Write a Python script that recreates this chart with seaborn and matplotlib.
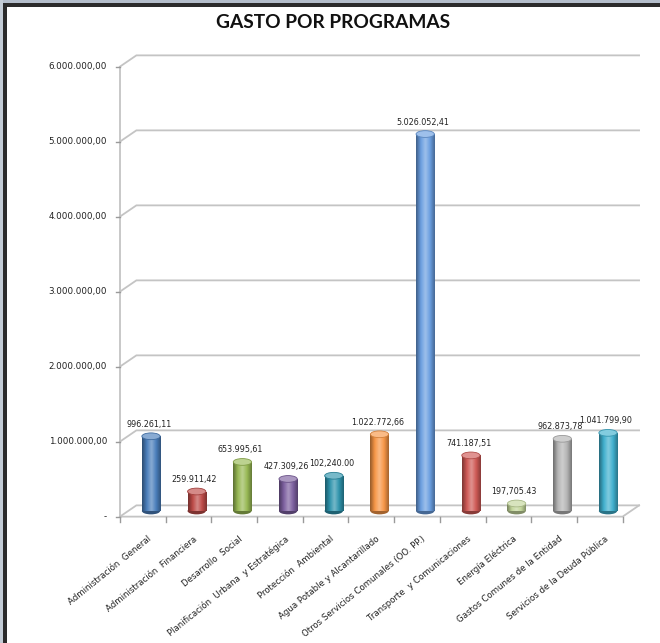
import numpy as np
import pandas as pd
import matplotlib
matplotlib.use("Agg")
import matplotlib.pyplot as plt
import seaborn as sns
from matplotlib.patches import Ellipse, Rectangle
from matplotlib.colors import LinearSegmentedColormap, to_rgb

categories = ["Administración  General", "Administración  Financiera", "Desarrollo  Social",
              "Planificación  Urbana  y Estratégica", "Protección  Ambiental",
              "Agua Potable y Alcantarillado", "Otros Servicios Comunales (OO. PP.)",
              "Transporte  y Comunicaciones", "Energía Eléctrica",
              "Gastos Comunes de la Entidad", "Servicios de la Deuda Pública"]
values = [996261.11, 259911.42, 653995.61, 427309.26, 470000.00, 1022772.66,
          5026052.41, 741187.51, 100000.00, 962873.78, 1041799.90]
value_labels = ["996.261,11", "259.911,42", "653.995,61", "427.309,26", "102,240.00",
                "1.022.772,66", "5.026.052,41", "741.187,51", "197,705.43",
                "962.873,78", "1.041.799,90"]
y_ticks = [0, 1e6, 2e6, 3e6, 4e6, 5e6, 6e6]
y_tick_labels = ["-", "1.000.000,00", "2.000.000,00", "3.000.000,00",
                 "4.000.000,00", "5.000.000,00", "6.000.000,00"]
colors = ["#4a7ebb", "#be4b48", "#98b954", "#7d60a0", "#2e93ac", "#f79646",
          "#6a9ee0", "#cf5955", "#c3d69b", "#b4b4b4", "#3fb0ce"]

df = pd.DataFrame({"programa": categories, "gasto": values})

W, H = 660, 643
fig = plt.figure(figsize=(W / 100, H / 100), dpi=100)
fig.patch.set_facecolor("white")
ax = fig.add_axes([0, 0, 1, 1])

sns.barplot(data=df, x="programa", y="gasto", hue="programa", palette=colors,
            width=0.4, legend=False, ax=ax, saturation=1)

# pixel mapping: x_px = 151 + 45.7*x ; y_px(from top) = 511 - 75*v/1e6
px_per_cat = 45.7
px_per_m = 75.0
ax.set_xlim(-151 / px_per_cat, (W - 151) / px_per_cat)
ax.set_ylim((511 - H) / px_per_m * 1e6, 511 / px_per_m * 1e6)
ax.axis("off")

ddx = 0.18            # half depth in category units
ddy = 0.075e6         # half depth in value units
n = len(categories)
x_fl = -0.5 - ddx     # front left
x_fr = n - 0.5 - ddx  # front right
x_bl = -0.5 + ddx
x_br = n - 0.5 + ddx
grid_c = "#c4c4c4"

# back wall gridlines + left wall diagonals
for t in y_ticks:
    ax.plot([x_fl, x_bl, x_br], [t - ddy, t + ddy, t + ddy], color=grid_c, lw=1.3,
            zorder=0.5, solid_joinstyle="miter")
# floor
ax.plot([x_fl, x_fr, x_br], [-ddy, -ddy, ddy], color=grid_c, lw=1.3, zorder=0.5)
# left vertical axis (front)
ax.plot([x_fl, x_fl], [-ddy, y_ticks[-1] - ddy], color=grid_c, lw=1.3, zorder=0.5)
for t, lab in zip(y_ticks, y_tick_labels):
    ax.plot([x_fl - 0.08, x_fl], [t - ddy, t - ddy], color="#9a9a9a", lw=1, zorder=0.5)
    ax.text(x_fl - 0.28, t - ddy, lab, ha="right", va="center", fontsize=6.3,
            color="#222222")
# x tick marks
for j in range(n + 1):
    xj = j - 0.5 - ddx
    ax.plot([xj, xj], [-ddy, -ddy - 0.07e6], color="#9a9a9a", lw=1, zorder=0.5)

# cylinder look for bars
for p in list(ax.patches):
    x0, w, h = p.get_x(), p.get_width(), p.get_height()
    base = np.array(to_rgb(p.get_facecolor()))
    dark = base * 0.6
    light = np.clip(base + (1 - base) * 0.35, 0, 1)
    cmap = LinearSegmentedColormap.from_list("cyl", [dark, base, light, base, dark * 1.1])
    grad = np.linspace(0, 1, 64).reshape(1, -1)
    im = ax.imshow(grad, cmap=cmap, aspect="auto", extent=[x0, x0 + w, 0, h],
                   zorder=2, interpolation="bicubic")
    im.set_clip_path(p)
    p.set_edgecolor("none")
    ax.add_patch(Ellipse((x0 + w / 2, 0), w, 0.09e6, facecolor=dark * 1.1,
                         edgecolor="none", zorder=1.9))
    ax.add_patch(Ellipse((x0 + w / 2, h), w, 0.09e6, facecolor=light,
                         edgecolor=base * 0.85, lw=0.6, zorder=3))

# value labels
for i, (v, lab) in enumerate(zip(values, value_labels)):
    ax.text(i - 0.05, v + 0.16e6, lab, ha="center", va="center", fontsize=5.8,
            color="#222222", zorder=4)

# category labels
for i, cat in enumerate(categories):
    ax.text(i - 0.08, -0.31e6, cat, ha="right", va="top", rotation=39,
            rotation_mode="anchor", fontsize=6.2, color="#222222")

fig.text(333 / W, 1 - 23 / H, "GASTO POR PROGRAMAS", ha="center", va="center",
         fontsize=13.8, fontweight="bold", family="Lato", color="#111111")

# outer frame
def px_rect(x, y, w, h, c):
    fig.add_artist(Rectangle((x / W, 1 - (y + h) / H), w / W, h / H,
                             transform=fig.transFigure, facecolor=c, edgecolor="none",
                             zorder=10))

px_rect(0, 0, W, 3.3, "#b4becb")
px_rect(0, 0, 3, H, "#c3ccd6")
px_rect(3, 3.3, W, 3.3, "#2b2b2b")
px_rect(3, 3.3, 3.5, H, "#2b2b2b")

fig.savefig("out.png", dpi=100)
